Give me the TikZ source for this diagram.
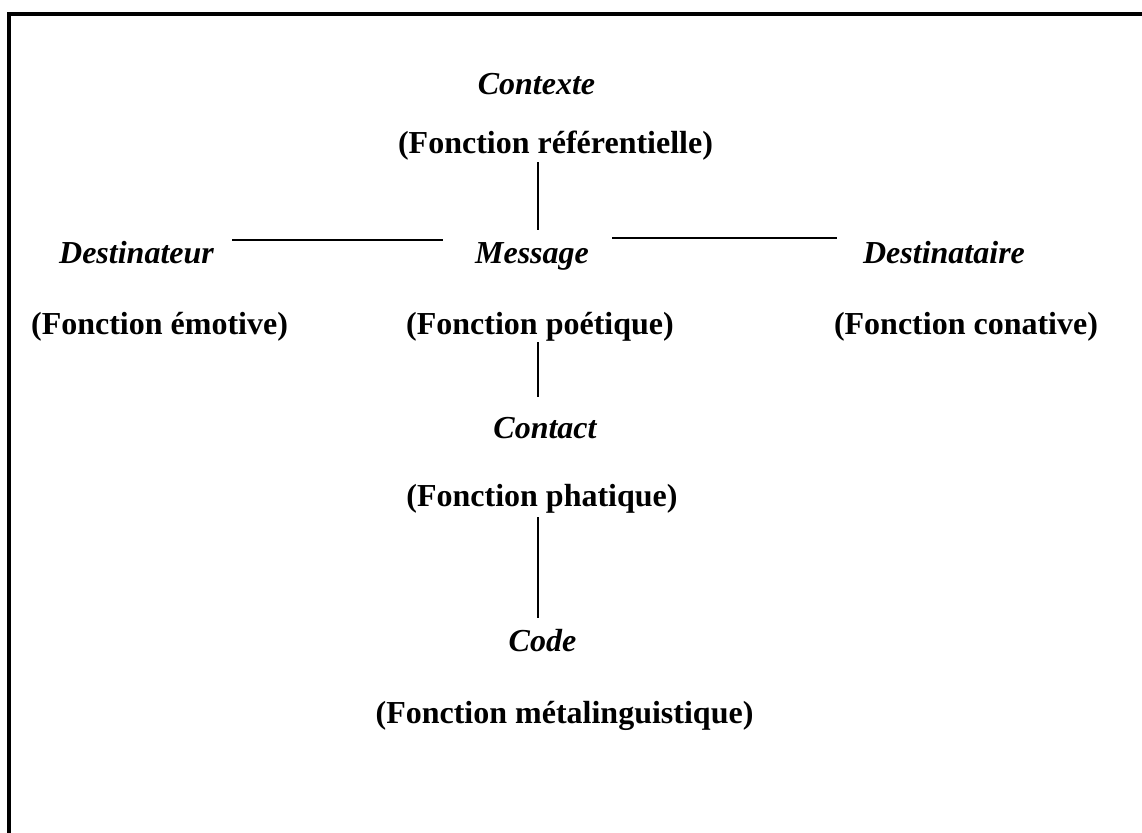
\documentclass[tikz,border=0pt]{standalone}
\usepackage{fontspec}
\setmainfont{Liberation Serif}
\begin{document}
\begin{tikzpicture}[x=1pt,y=-1pt,
  lbl/.style={anchor=base,inner sep=0pt,font=\fontsize{32}{38}\selectfont\bfseries\itshape},
  fn/.style={anchor=base,inner sep=0pt,font=\fontsize{32}{38}\selectfont\bfseries},
  link/.style={line width=2pt}]
\useasboundingbox (0,0) rectangle (1142,832);
\draw[line width=4pt] (9,834) -- (9,14) -- (1144,14);
% labels
\node[lbl] (contexte) at (536.5,95) {Contexte};
\node[fn]  (ref) at (555.5,153) {(Fonction référentielle)};
\node[lbl] (destinateur) at (136.5,263) {Destinateur};
\node[lbl] (message) at (532,263) {Message};
\node[lbl] (destinataire) at (944,263) {Destinataire};
\node[fn]  (emo) at (159.5,334) {(Fonction émotive)};
\node[fn]  (poe) at (540,334) {(Fonction poétique)};
\node[fn]  (con) at (966,334) {(Fonction conative)};
\node[lbl] (contact) at (545,438) {Contact};
\node[fn]  (pha) at (542,506) {(Fonction phatique)};
\node[lbl] (code) at (542.5,651) {Code};
\node[fn]  (meta) at (564.5,723) {(Fonction métalinguistique)};
% connector ends
\coordinate (v1a) at (538,162); \coordinate (v1b) at (538,230);
\coordinate (v2a) at (538,342); \coordinate (v2b) at (538,397);
\coordinate (v3a) at (538,517); \coordinate (v3b) at (538,618);
\coordinate (h1a) at (232,240); \coordinate (h1b) at (443,240);
\coordinate (h2a) at (612,238); \coordinate (h2b) at (837,238);
\draw[link] (v1a) -- (v1b);
\draw[link] (v2a) -- (v2b);
\draw[link] (v3a) -- (v3b);
\draw[link] (h1a) -- (h1b);
\draw[link] (h2a) -- (h2b);
\end{tikzpicture}
\end{document}
